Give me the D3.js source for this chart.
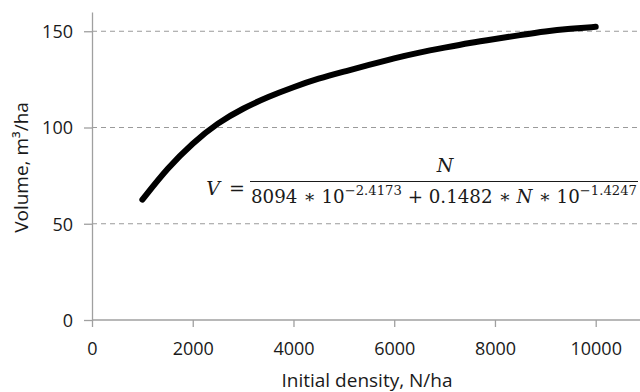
<!DOCTYPE html>
<html>
<head>
<meta charset="utf-8">
<script src="https://cdn.jsdelivr.net/npm/d3@7"></script>
<style>
  body { margin: 0; background: #fff; }
  text { font-family: "Open Sans", sans-serif; fill: #1a1a1a; }
</style>
</head>
<body>
<script>
// data
var density = [1000, 1500, 2000, 2500, 3000, 3500, 4000, 4500, 5000, 5500,
               6000, 6500, 7000, 7500, 8000, 8500, 9000, 9500, 10000];
var volume  = [62.5, 79, 92, 102.5, 110, 116, 121, 125.5, 129, 132.5,
               136, 139, 141.5, 144, 146, 148, 150, 151.3, 152.3];
var xTicks = [0, 2000, 4000, 6000, 8000, 10000];
var yTicks = [0, 50, 100, 150];
var gridValues = [50, 100, 150];

var width = 640, height = 392;
var axisColor = "#a0a0a0";

var x = d3.scaleLinear().domain([0, 10000]).range([92, 595.7]);
var y = d3.scaleLinear().domain([0, 160]).range([320, 12]);
var plotRight = 645;

var svg = d3.select("body").append("svg")
    .attr("width", width)
    .attr("height", height);

//gridlines
svg.append("g").selectAll("line")
    .data(gridValues)
    .enter().append("line")
    .attr("x1", x(0)).attr("x2", plotRight)
    .attr("y1", function(d){ return y(d); })
    .attr("y2", function(d){ return y(d); })
    .attr("stroke", "#9a9a9a")
    .attr("stroke-width", 1)
    .attr("stroke-dasharray", "5,4");

//axes
var xAxis = d3.axisBottom(x).tickValues(xTicks).tickSize(7).tickSizeOuter(0).tickFormat(d3.format("d"));
var yAxis = d3.axisLeft(y).tickValues(yTicks).tickSize(8).tickSizeOuter(0);

var gx = svg.append("g")
    .attr("transform", "translate(0," + y(0) + ")")
    .call(xAxis);
gx.select(".domain").attr("d", "M" + x(0) + ",0H" + plotRight);

var gy = svg.append("g")
    .attr("transform", "translate(" + x(0) + ",0)")
    .call(yAxis);

[gx, gy].forEach(function(g){
    g.select(".domain").attr("stroke", axisColor).attr("stroke-width", 1.3);
    g.selectAll(".tick line").attr("stroke", axisColor).attr("stroke-width", 1.3);
    g.selectAll(".tick text")
        .attr("font-family", "Open Sans")
        .attr("font-size", 18)
        .attr("fill", "#1a1a1a");
});
gx.selectAll(".tick text").attr("dy", null).attr("y", 35);
gy.selectAll(".tick text").attr("x", -19).attr("dy", "0.36em");

//axis titles
svg.append("text")
    .attr("x", 367).attr("y", 387)
    .attr("text-anchor", "middle")
    .attr("font-size", 19)
    .text("Initial density, N/ha");

svg.append("text")
    .attr("transform", "translate(28,167.5) rotate(-90)")
    .attr("text-anchor", "middle")
    .attr("font-size", 19)
    .text("Volume, m³/ha");

//curve
var line = d3.line()
    .x(function(d){ return x(d[0]); })
    .y(function(d){ return y(d[1]); })
    .curve(d3.curveBasis);

svg.append("path")
    .datum(d3.zip(density, volume))
    .attr("d", line)
    .attr("fill", "none")
    .attr("stroke", "#000")
    .attr("stroke-width", 6)
    .attr("stroke-linecap", "round")
    .attr("stroke-linejoin", "round");

//formula
var f = svg.append("g").attr("class", "formula")
    .style("font-family", "'DejaVu Serif', serif");

f.append("text")
    .attr("x", 213).attr("y", 195)
    .attr("text-anchor", "middle")
    .attr("font-size", 19).attr("font-style", "italic")
    .style("font-family", "inherit")
    .text("V");
f.append("text")
    .attr("x", 237).attr("y", 195)
    .attr("text-anchor", "middle")
    .attr("font-size", 19)
    .style("font-family", "inherit")
    .text("=");
f.append("line")
    .attr("x1", 250).attr("x2", 638)
    .attr("y1", 181.5).attr("y2", 181.5)
    .attr("stroke", "#1a1a1a").attr("stroke-width", 1.2);
f.append("text")
    .attr("x", 445).attr("y", 172)
    .attr("text-anchor", "middle")
    .attr("font-size", 19).attr("font-style", "italic")
    .style("font-family", "inherit")
    .text("N");

var den = f.append("text")
    .attr("x", 251).attr("y", 203)
    .attr("font-size", 18)
    .style("font-family", "inherit")
    .attr("textLength", 386)
    .attr("lengthAdjust", "spacingAndGlyphs");
den.append("tspan").text("8094 ∗ 10");
den.append("tspan").attr("dy", -8).attr("font-size", 13).text("−2.4173");
den.append("tspan").attr("dy", 8).text(" + 0.1482 ∗ ");
den.append("tspan").attr("font-style", "italic").text("N");
den.append("tspan").text(" ∗ 10");
den.append("tspan").attr("dy", -8).attr("font-size", 13).text("−1.4247");
</script>
</body>
</html>
